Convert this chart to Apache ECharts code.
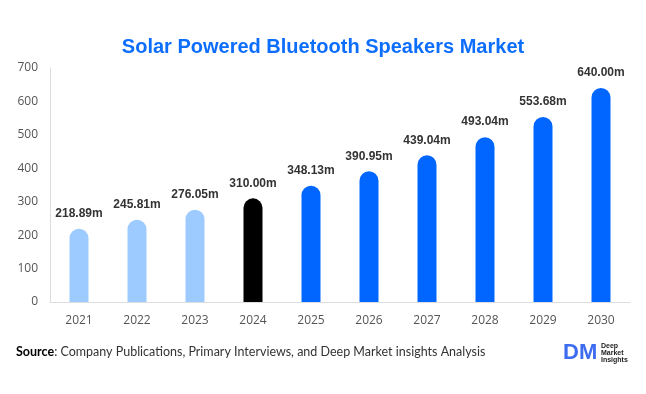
<!DOCTYPE html>
<html><head><meta charset="utf-8">
<script src="https://cdn.jsdelivr.net/npm/echarts@6/dist/echarts.min.js"></script>
<style>html,body{margin:0;padding:0;background:#fff}#c{width:646px;height:394px}</style>
</head><body><div id="c"></div>
<script>
const categories = ['2021','2022','2023','2024','2025','2026','2027','2028','2029','2030'];
const values = [218.89, 245.81, 276.05, 310.00, 348.13, 390.95, 439.04, 493.04, 553.68, 640.00];
const barColors = ['#9ecbff','#9ecbff','#9ecbff','#000000','#0066ff','#0066ff','#0066ff','#0066ff','#0066ff','#0066ff'];
const yTicks = [0,100,200,300,400,500,600,700];

const chart = echarts.init(document.getElementById('c'));
chart.setOption({
  animation: false,
  title: {
    text: 'Solar Powered Bluetooth Speakers Market',
    left: 'center', top: 32,
    textStyle: { color: '#0d6efd', fontSize: 20, fontWeight: 'bold', fontFamily: 'Liberation Sans, Arial, sans-serif' }
  },
  grid: { left: 50, right: 16, top: 68, bottom: 92, containLabel: false },
  xAxis: {
    type: 'category', data: categories,
    axisLine: { show: true, lineStyle: { color: '#dddddd' } },
    axisTick: { show: false },
    axisLabel: { color: '#555', fontSize: 12, margin: 13, fontFamily: 'Open Sans, sans-serif' }
  },
  yAxis: {
    type: 'value', min: 0, max: 700, interval: 100,
    axisLine: { show: true, lineStyle: { color: '#dddddd' } },
    axisTick: { show: false },
    splitLine: { show: false },
    axisLabel: { color: '#555', fontSize: 12, margin: 12, fontFamily: 'Open Sans, sans-serif',
      formatter: v => yTicks.includes(v) ? String(v) : '' }
  },
  series: [{
    type: 'bar',
    data: values.map((v, i) => ({ value: v, itemStyle: { color: barColors[i] } })),
    barWidth: 19,
    itemStyle: { borderRadius: [10, 10, 0, 0] },
    label: {
      show: true, position: 'top', distance: 9,
      formatter: p => p.value.toFixed(2) + 'm',
      color: '#333', fontSize: 12, fontWeight: 'bold', fontFamily: 'Liberation Sans, Arial, sans-serif'
    }
  }],
  graphic: [
    { type: 'text', left: 16, top: 345, style: { rich: { b: { fontWeight: 'bold', fontSize: 12.5, fill: '#000', fontFamily: 'Lato, sans-serif' }, n: { fontSize: 12.5, fill: '#333', fontFamily: 'Lato, sans-serif' } }, text: '{b|Source}{n|: Company Publications, Primary Interviews, and Deep Market insights Analysis}' } },
    { type: 'text', left: 563, top: 342, style: { text: 'DM', fontSize: 22, fontWeight: 'bold', fill: '#3d6cf0', fontFamily: 'Liberation Sans, Arial, sans-serif' } },
    { type: 'text', left: 601, top: 343, style: { text: 'Deep\nMarket\nInsights', fontSize: 7, lineHeight: 7, fontWeight: 'bold', fill: '#222', fontFamily: 'Liberation Sans, Arial, sans-serif' } }
  ]
});
</script></body></html>
